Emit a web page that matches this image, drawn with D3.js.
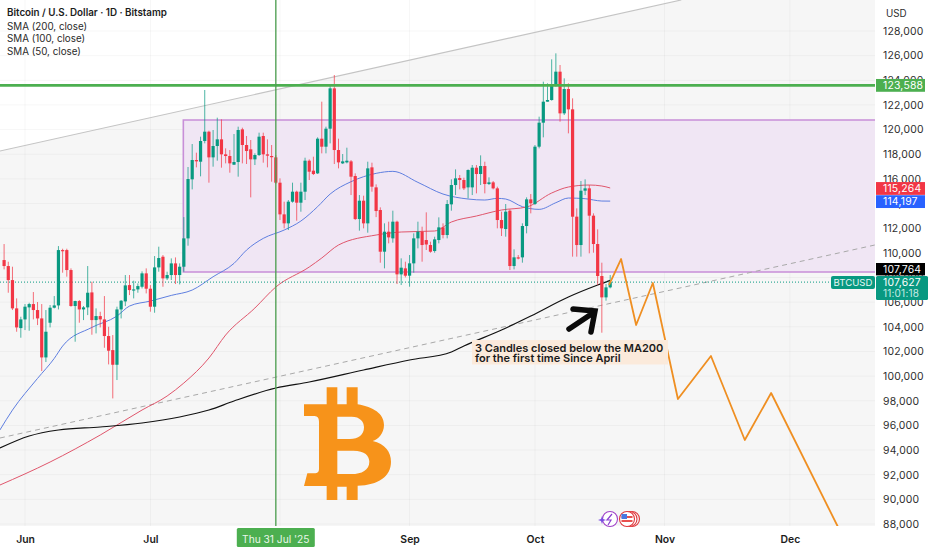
<!DOCTYPE html>
<html><head><meta charset="utf-8">
<script src="https://cdn.jsdelivr.net/npm/d3@7/dist/d3.min.js"></script>
<style>html,body{margin:0;padding:0;background:#fff}svg{display:block}text{font-family:Inter,"Noto Sans",sans-serif}</style>
</head><body><svg id="c" width="932" height="550"></svg>
<script>
// Days are counted from 1 Jun 2025 (day 0)
const firstCandleDay = -5;
const opens = [109415,108930,107790,105495,103895,104600,105575,105845,105360,104680,101515,104330,105550,105735,110225,110225,108605,105685,106090,105410,105575,106790,104545,104870,104600,103250,102110,100920,105410,106060,107385,106980,107035,107250,108335,107090,105630,108820,109685,107930,108200,109145,108200,108875,111175,
115965,117530,117397,119074,119831,117748,118668,119209,117992,117857,117153,117370,120020,118750,118398,117586,117938,119480,117992,117857,117748,115693,113123,112393,114151,114962,114070,114962,117478,116666,116450,119263,118613,120074,123347,118343,117261,117342,117423,116233,112744,114231,112393,116936,115313,113475,110094,111717,111176,112529,108255,108742,108147,109148,111176,111717,111041,110635,110148,111041,112069,111447,113934,115503,116071,115909,115313,115313,116909,116396,117045,115584,115719,115232,112664,111932,113421,108931,109634,109634,112177,114341,113961,118614,120561,122265,122400,123537,124700,121318,123293,121643,112935,110635,115043,115234,113016,110716,108120,106388,107200];
const highs = [110715,109280,108875,106305,104815,105845,105950,106820,106010,105845,105360,105765,106495,110550,110335,110335,108740,106115,106170,105685,108930,107655,105495,105220,106495,104005,103330,105630,106170,108200,108200,107740,107520,108500,108740,107385,109740,110500,109820,108470,109550,109630,109145,112900,116965,
118830,118127,119426,123213,119912,119966,120967,120832,118478,118343,119642,120237,120156,119480,119155,118073,119750,119750,119209,118749,117938,116044,114151,114286,115693,115043,115693,117721,117586,117802,119371,122265,120237,123618,124429,119263,118018,118532,117531,116449,114691,114637,117396,117315,115557,113692,112393,112529,113421,112610,109553,109283,109824,111582,112529,112123,113286,110906,111311,112880,112393,114287,115963,116774,116314,116098,116774,117126,117126,117910,117396,116125,115828,115368,113340,113961,113530,110284,109824,112393,114503,114772,118749,121048,123888,123753,125701,126187,125241,124159,123753,122536,113610,115827,115963,115504,113205,111907,109201,107470,108200];
const lows = [108660,106765,105360,103600,103115,103735,103680,104600,104140,100410,101140,103950,105495,105410,108390,108065,105630,102790,104330,104545,104950,103355,103465,103950,102300,100950,98190,99680,104680,105680,106575,106305,106765,107115,106710,105225,105140,108470,107250,107795,107795,107470,107440,108470,110580,
115150,116937,116208,118885,115693,116991,117478,116910,117261,116504,117126,116180,117262,117208,114502,117126,117857,117316,116937,115774,115585,112663,111987,111852,114070,112608,113339,114286,115909,116314,116396,118073,118073,118884,117207,116855,117207,117261,114691,112663,111800,111988,111636,114962,112900,109200,108742,110770,110825,107470,107390,108010,107254,108390,110365,109283,110230,110013,110013,110770,111176,111176,113420,114691,115151,115097,114421,114691,114827,115503,114827,115503,115151,111988,111366,111312,108607,108660,109472,109202,111582,113205,113880,118478,119371,122265,122346,123483,120642,121183,119695,109690,109690,109690,114691,109960,110013,107389,103521,106118,107120];
const closes = [108930,107790,105495,103950,104600,105630,105845,105360,104680,101515,103600,105550,105735,110225,110175,108605,105685,106090,105410,105575,106765,104545,104870,104600,103250,102060,100920,105410,106115,107360,106980,107035,107305,108335,107090,105630,108820,109580,107930,108200,109145,108200,108875,111175,115990,
117532,117425,119074,119831,117748,118668,119209,117992,117857,117262,117370,119967,118750,118262,117586,117938,119426,117992,117883,117776,115693,113123,112393,114151,114962,114070,114962,117478,116585,116395,119263,118613,120074,123347,118343,117342,117423,117477,116179,112744,114231,112393,116855,115368,113393,110094,111717,111257,112529,108255,108796,108147,109148,111176,111717,110635,110680,110094,111095,112069,111447,113962,115503,116044,115909,115232,116720,116909,116396,117045,115584,115719,115232,112663,111988,113339,108931,109634,109553,112177,114341,114017,118614,120561,122265,122400,123537,124700,121318,123293,121643,112933,110635,115044,115232,113016,110716,108120,106388,107200,107627];

const sma50Days   = [-6,-3,3,7,9,16,22,25,30,35,40,45,50,53,57,62,66,70,73,78,84,88,94,100,106,110,113,115,119,123,127,130,134,138,140];
const sma50Values = [95630,97243,99813,101436,102437,103951,104871,105683,106088,106548,106981,108063,109145,110227,111174,111850,112581,113745,114772,115773,116450,116612,115719,114772,114367,114286,114421,114367,113745,113528,114069,114448,114394,114204,114197];
const sma100Days   = [-6,6,18,28,34,38,44,48,55,60,68,71,75,84,90,98,102,108,114,120,126,130,135,138,140];
const sma100Values = [91162,93029,95219,97248,98384,99438,101467,103333,105524,107228,108851,109582,110636,111447,111691,111772,112502,112989,113476,113719,114855,115342,115504,115423,115264];
const sma200Days   = [-6,1,8,18,28,37,44,50,60,68,81,92,102,105,114,121,130,137,140];
const sma200Values = [94165,95138,95625,95869,96193,96680,97248,97978,99033,99520,100495,101305,101955,102441,103739,104875,106417,107390,107764];

const forecastDays   = [139.7,142.6,146.2,150.2,156.2,164.1,172.2,178.5,194.5];
const forecastValues = [107390,109500,104145,107553,98140,101630,94814,98627,87755];

const upperTrendDays = [-6,157], upperTrendValues = [118263,130515];
const lowerTrendDays = [-6,203.3], lowerTrendValues = [94976,110636];
const boxStartDay = 38, boxTop = 120778, boxBottom = 108445;
const resistance = 123588, lastPrice = 107627, crosshairDay = 60;
const sma100Last = 115264, sma50Last = 114197, sma200Last = 107764;

const priceTicks = d3.range(88000,128001,2000);
const monthLabels = ["Jun","Jul","Sep","Oct","Nov","Dec"];
const monthDays   = [0,30,92,122,153,183];
const legendLines = ["SMA (200, close)","SMA (100, close)","SMA (50, close)"];

const plotR = 875, plotB = 526;
const x = d3.scaleLinear().domain([0,30]).range([25,150.4]);
const y = d3.scaleLinear().domain([88000,128000]).range([524,31]);
const svg = d3.select("#c");
const fmt = d3.format(",");
const UP="#089981", DOWN="#F23645";

const defs = svg.append("defs");
defs.append("clipPath").attr("id","plot").append("rect").attr("width",plotR).attr("height",plotB);
svg.append("rect").attr("width",932).attr("height",550).attr("fill","#fff");

const plot = svg.append("g").attr("clip-path","url(#plot)");
// shaded channel under upper trendline
const x0 = x(upperTrendDays[0]), x1 = x(upperTrendDays[1]);
plot.append("path").attr("fill","#f6f6f6")
  .attr("d",d3.line()([[x0,y(upperTrendValues[0])],[x1,y(upperTrendValues[1])],[plotR,-10],[plotR,plotB],[x0,plotB]]));
// grid
plot.append("g").selectAll("line").data(priceTicks).join("line")
  .attr("x1",0).attr("x2",plotR).attr("y1",d=>y(d)).attr("y2",d=>y(d)).attr("stroke","#000").attr("stroke-opacity",.035);
plot.append("g").selectAll("line").data(monthDays.concat([61])).join("line")
  .attr("x1",d=>x(d)).attr("x2",d=>x(d)).attr("y1",0).attr("y2",plotB).attr("stroke","#000").attr("stroke-opacity",.035);
// box
plot.append("rect").attr("x",x(boxStartDay)-.5).attr("y",y(boxTop)).attr("width",plotR+5-x(boxStartDay)).attr("height",y(boxBottom)-y(boxTop))
  .attr("fill","#f0e6f4").attr("stroke","none");
plot.append("path").attr("fill","none").attr("stroke","#c88fd8").attr("stroke-width",1.6)
  .attr("d",`M${plotR},${y(boxTop)}H${x(boxStartDay)-.5}V${y(boxBottom)}H${plotR}`);

const ln = (ds,vs) => d3.line().x(i=>x(ds[i])).y(i=>y(vs[i])).curve(d3.curveMonotoneX)(d3.range(ds.length));
const trend = (ds,vs) => d3.line().x(i=>x(ds[i])).y(i=>y(vs[i]))(d3.range(ds.length));
plot.append("path").attr("d",trend(upperTrendDays,upperTrendValues)).attr("fill","none").attr("stroke","#c4c4c4").attr("stroke-width",1.2);
plot.append("path").attr("d",trend(lowerTrendDays,lowerTrendValues)).attr("fill","none").attr("stroke","#a9a9a9").attr("stroke-width",1).attr("stroke-dasharray","5 4");
plot.append("path").attr("d",ln(sma50Days,sma50Values)).attr("fill","none").attr("stroke","#5f7fe0").attr("stroke-width",1);
plot.append("path").attr("d",ln(sma100Days,sma100Values)).attr("fill","none").attr("stroke","#e0566c").attr("stroke-width",1);
plot.append("path").attr("d",ln(sma200Days,sma200Values)).attr("fill","none").attr("stroke","#111").attr("stroke-width",1.2);

// last price line
plot.append("line").attr("x1",0).attr("x2",plotR).attr("y1",y(lastPrice)).attr("y2",y(lastPrice)).attr("stroke",UP).attr("stroke-width",1).attr("stroke-dasharray","1 2");

// candles
const cg = plot.append("g");
opens.forEach((o,i)=>{
  const d = firstCandleDay+i, c = closes[i], col = c>=o?UP:DOWN, cx = x(d);
  cg.append("line").attr("x1",cx).attr("x2",cx).attr("y1",y(highs[i])).attr("y2",y(lows[i])).attr("stroke",col).attr("stroke-width",.9).attr("stroke-opacity",.8);
  const t = y(Math.max(o,c)), b = y(Math.min(o,c));
  cg.append("rect").attr("x",cx-1.6).attr("width",3.2).attr("y",t).attr("height",Math.max(b-t,1.2)).attr("fill",col);
});

// resistance and crosshair
plot.append("line").attr("x1",0).attr("x2",plotR).attr("y1",y(resistance)).attr("y2",y(resistance)).attr("stroke","#4caf50").attr("stroke-width",2.8);
plot.append("line").attr("x1",x(crosshairDay)).attr("x2",x(crosshairDay)).attr("y1",0).attr("y2",plotB+2).attr("stroke","#4f9f52").attr("stroke-width",1.6).attr("stroke-opacity",.85);

// forecast
plot.append("path").attr("d",trend(forecastDays,forecastValues)).attr("fill","none").attr("stroke","#ef8f22").attr("stroke-width",1.8).attr("stroke-linejoin","round");

// bitcoin logo
svg.append("path").attr("transform","translate(290,370) scale(.3333)").attr("fill","#f7931a").attr("fill-rule","evenodd")
 .attr("d","M42,103H110V52H142V103H170V52H203V103C250,112 282,130 282,165C282,190 265,208 248,213C285,222 303,245 303,275C303,320 265,345 203,347V390H170V350H142V390H110V348H42L52,310H72C85,310 87,305 87,295V155C87,140 80,138 70,138H42Z M142,140H185C210,140 222,155 222,172C222,195 205,207 180,207H142Z M142,242H190C225,242 238,258 238,275C238,300 215,312 185,312H142Z");

// arrow
svg.append("path").attr("fill","none").attr("stroke","#0a0a0a").attr("stroke-width",5.5).attr("stroke-linecap","round").attr("stroke-linejoin","miter")
 .attr("d","M569,329L593,313 M573,309L595,311L591,332");

// annotation
svg.append("rect").attr("x",472).attr("y",340).attr("width",196).attr("height",24.5).attr("fill","#fbeadb");
const note = svg.append("g").attr("font-size",11).attr("font-weight",600).attr("fill","#1a1a1a");
note.append("text").attr("x",475).attr("y",351.6).text("3 Candles closed below the MA200");
note.append("text").attr("x",475).attr("y",362.2).text("for the first time Since April");

// event icons
const ic = svg.append("g").attr("fill","none");
ic.append("circle").attr("cx",610).attr("cy",519).attr("r",7.5).attr("stroke","#a040c8").attr("stroke-width",1.1).attr("fill","#fff");
ic.append("path").attr("d","M612,514L607,520H611L608,525").attr("stroke","#8a3fd0").attr("stroke-width",1.2);
ic.append("path").attr("d","M602,516L603,519L606,520L603,521L602,524L601,521L598,520L601,519Z").attr("fill","#7a4be0");
ic.append("circle").attr("cx",632).attr("cy",519).attr("r",7.5).attr("stroke","#e0393e").attr("stroke-width",1.1);
ic.append("circle").attr("cx",629.5).attr("cy",519).attr("r",7.5).attr("stroke","#e0393e").attr("stroke-width",1.1).attr("fill","#fff");
ic.append("circle").attr("cx",627).attr("cy",519).attr("r",7.5).attr("stroke","#e0393e").attr("stroke-width",1.1).attr("fill","#fff");
ic.append("rect").attr("x",621.5).attr("y",516).attr("width",11).attr("height",2).attr("fill","#e8504f");
ic.append("rect").attr("x",621.5).attr("y",520).attr("width",11).attr("height",2).attr("fill","#e8504f");
ic.append("rect").attr("x",621.5).attr("y",514).attr("width",5.5).attr("height",5).attr("fill","#4a78e0");

// right price axis
const yAxis = svg.append("g").attr("transform",`translate(${plotR},0)`)
  .call(d3.axisRight(y).tickValues(priceTicks).tickFormat(fmt).tickSize(0).tickPadding(8));
yAxis.select(".domain").remove();
yAxis.selectAll("text").attr("font-size",10.4).attr("fill","#2e2e2e").attr("letter-spacing",".2px");
svg.append("text").attr("x",886).attr("y",16.5).attr("font-size",9.8).attr("fill","#2e2e2e").text("USD");

// bottom axis
const xAxis = svg.append("g").attr("transform",`translate(0,${plotB})`)
  .call(d3.axisBottom(x).tickValues(monthDays).tickFormat((d,i)=>monthLabels[i]).tickSize(0).tickPadding(10));
xAxis.select(".domain").remove();
xAxis.selectAll("text").attr("font-size",10.4).attr("font-weight",600).attr("fill","#1c1c1c");

// crosshair date tag
svg.append("rect").attr("x",x(crosshairDay)-39).attr("y",528).attr("width",78).attr("height",19).attr("rx",1.5).attr("fill","#4caf50");
svg.append("text").attr("x",x(crosshairDay)).attr("y",542.5).attr("text-anchor","middle").attr("font-size",10.2).attr("fill","#eaf6ea").text("Thu 31 Jul '25");

// price tags
function tag(val,fill,off,h){
  const cy = y(val)+off;
  svg.append("rect").attr("x",876).attr("y",cy-h/2).attr("width",49).attr("height",h).attr("fill",fill);
  svg.append("text").attr("x",883).attr("y",cy+3.8).attr("font-size",10.4).attr("letter-spacing",".2px").attr("fill","#fff").text(fmt(val));
}
tag(resistance,"#4caf50",0,12.8);
tag(sma100Last,DOWN,.5,12.8);
tag(sma50Last,"#2962ff",.5,12.8);
tag(sma200Last,"#000",-11.2,12.4);

svg.append("rect").attr("x",876).attr("y",276).attr("width",52).attr("height",24).attr("rx",1.5).attr("fill",UP);
svg.append("text").attr("x",883).attr("y",286).attr("font-size",10.4).attr("letter-spacing",".2px").attr("fill","#fff").text(fmt(lastPrice));
svg.append("text").attr("x",883).attr("y",297).attr("font-size",10).attr("letter-spacing",".2px").attr("fill","#c9ece5").text("11:01:18");
svg.append("rect").attr("x",831).attr("y",276).attr("width",44).attr("height",13).attr("rx",2).attr("fill",UP);
svg.append("text").attr("x",853).attr("y",286.3).attr("text-anchor","middle").attr("font-size",9.6).attr("fill","#e6f7f3").text("BTCUSD");

// legend
svg.append("text").attr("x",7).attr("y",16).attr("font-size",9.8).attr("font-weight",600).attr("fill","#1c1c1c").text("Bitcoin / U.S. Dollar · 1D · Bitstamp");
svg.append("g").selectAll("text").data(legendLines).join("text").attr("x",7).attr("y",(d,i)=>29.5+i*12.7).attr("font-size",9.8).attr("fill","#2a2a2a").text(d=>d);
</script></body></html>
